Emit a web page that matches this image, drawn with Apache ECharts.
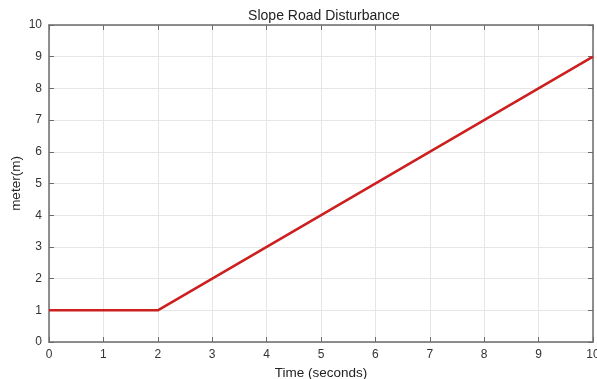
<!DOCTYPE html>
<html>
<head>
<meta charset="utf-8">
<script src="https://cdn.jsdelivr.net/npm/echarts@6/dist/echarts.min.js"></script>
<style>
  html, body { margin: 0; padding: 0; background: #fff; }
  #main { width: 597px; height: 379px; }
</style>
</head>
<body>
<div id="main"></div>
<script>
var myChart = echarts.init(document.getElementById('main'));

// time (s) and road height (m) at the corners of the profile
var timeData = [0, 2, 10];
var heightData = [1, 1, 9];

var points = timeData.map(function (t, i) {
    return [t, heightData[i]];
});

var axisColor = '#6b6b6b';
var gridColor = '#e6e6e6';

function boxAxis(pos, showLabel) {
    return {
        type: 'value',
        position: pos,
        min: 0,
        max: 10,
        interval: 1,
        axisLine: { show: true, onZero: false, lineStyle: { color: axisColor, width: 1.5 } },
        axisTick: { show: true, inside: true, length: 5, lineStyle: { color: axisColor } },
        axisLabel: {
            show: showLabel,
            color: '#333',
            fontSize: 12,
            fontFamily: 'Liberation Sans'
        },
        splitLine: { show: showLabel, lineStyle: { color: gridColor, width: 1 } }
    };
}

var xBottom = boxAxis('bottom', true);
xBottom.name = 'Time (seconds)';
xBottom.nameLocation = 'middle';
xBottom.nameGap = 18;
xBottom.nameTextStyle = { color: '#222', fontSize: 13.5, fontFamily: 'Liberation Sans' };
xBottom.axisLabel.margin = 7;

var yLeft = boxAxis('left', true);
yLeft.name = 'meter(m)';
yLeft.nameLocation = 'middle';
yLeft.nameGap = 26;
yLeft.nameMoveOverlap = false;
yLeft.nameTextStyle = { color: '#222', fontSize: 13.5, fontFamily: 'Liberation Sans' };
yLeft.axisLabel.margin = 7;

var option = {
    animation: false,
    title: {
        text: 'Slope Road Disturbance',
        left: 319,
        textAlign: 'center',
        top: 4,
        textStyle: { color: '#222', fontSize: 14, fontWeight: 'normal', fontFamily: 'Liberation Sans' }
    },
    grid: { left: 49, right: 4, top: 25, bottom: 37, outerBoundsMode: 'none' },
    xAxis: [xBottom, boxAxis('top', false)],
    yAxis: [yLeft, boxAxis('right', false)],
    series: [{
        type: 'line',
        data: points,
        showSymbol: false,
        lineStyle: { color: '#cc1f1f', width: 2.5 }
    }]
};

myChart.setOption(option);
</script>
</body>
</html>
